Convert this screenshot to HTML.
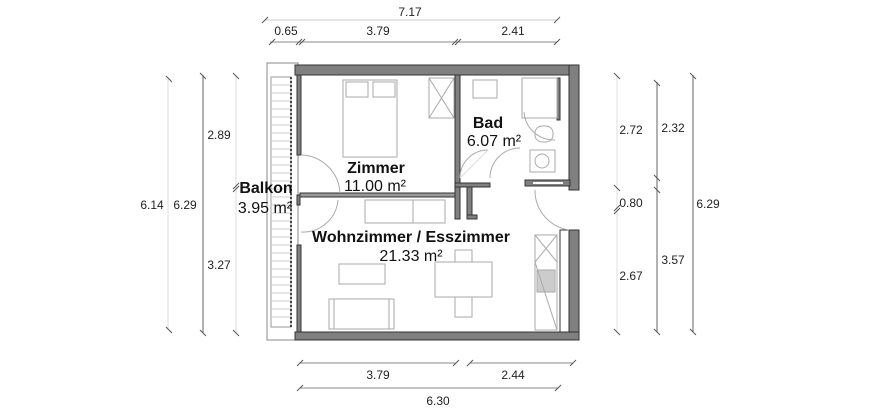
<!DOCTYPE html>
<html><head><meta charset="utf-8"><style>
html,body{margin:0;padding:0;background:#fff;}
svg{display:block;font-family:"Liberation Sans",sans-serif;}
</style></head><body>
<svg width="870" height="420" viewBox="0 0 870 420" xmlns="http://www.w3.org/2000/svg">
<rect width="870" height="420" fill="#fff"/>
<g stroke="#555" stroke-width="1" fill="none">
<line x1="265" y1="20" x2="557" y2="20" stroke="#ccc"/>
<line x1="262" y1="23" x2="268" y2="17"/><line x1="554" y1="23" x2="560" y2="17"/>
<line x1="270" y1="42" x2="557" y2="42" stroke="#888"/>
<line x1="269" y1="45" x2="275" y2="39"/><line x1="296" y1="45" x2="302" y2="39"/><line x1="299" y1="45" x2="305" y2="39"/>
<line x1="452" y1="45" x2="458" y2="39"/><line x1="455" y1="45" x2="461" y2="39"/><line x1="554" y1="45" x2="560" y2="39"/>
<line x1="300" y1="363" x2="456" y2="363" stroke="#888"/><line x1="470" y1="363" x2="573" y2="363" stroke="#888"/>
<line x1="297" y1="366" x2="303" y2="360"/><line x1="453" y1="366" x2="459" y2="360"/><line x1="467" y1="366" x2="473" y2="360"/><line x1="570" y1="366" x2="576" y2="360"/>
<line x1="300" y1="388" x2="558" y2="388" stroke="#888"/>
<line x1="297" y1="391" x2="303" y2="385"/><line x1="555" y1="391" x2="561" y2="385"/>
<line x1="168" y1="78" x2="168" y2="330" stroke="#ddd"/>
<line x1="166" y1="76" x2="172" y2="82"/><line x1="166" y1="327" x2="172" y2="333"/>
<line x1="203" y1="75" x2="203" y2="333" stroke="#666"/>
<line x1="200" y1="73" x2="206" y2="79"/><line x1="200" y1="330" x2="206" y2="336"/>
<line x1="236" y1="75" x2="236" y2="333" stroke="#ddd"/>
<line x1="233" y1="73" x2="239" y2="79"/><line x1="233" y1="330" x2="239" y2="336"/>
<line x1="233" y1="189" x2="239" y2="183"/><line x1="233" y1="192" x2="239" y2="186"/>
<line x1="617" y1="75" x2="617" y2="332" stroke="#ddd"/>
<line x1="614" y1="73" x2="620" y2="79"/><line x1="614" y1="185" x2="620" y2="191"/>
<line x1="614" y1="211" x2="620" y2="205"/><line x1="614" y1="214" x2="620" y2="208"/><line x1="614" y1="329" x2="620" y2="335"/>
<line x1="657" y1="82" x2="657" y2="332" stroke="#666"/>
<line x1="654" y1="80" x2="660" y2="86"/><line x1="654" y1="175" x2="660" y2="181"/><line x1="654" y1="187" x2="660" y2="193"/><line x1="654" y1="329" x2="660" y2="335"/>
<line x1="693" y1="75" x2="693" y2="332" stroke="#666"/>
<line x1="690" y1="73" x2="696" y2="79"/><line x1="690" y1="329" x2="696" y2="335"/>
</g>
<g font-size="12" fill="#222" text-anchor="middle">
<text x="410" y="16">7.17</text>
<text x="286" y="35">0.65</text><text x="378" y="35">3.79</text><text x="513" y="35">2.41</text>
<text x="378" y="379">3.79</text><text x="513" y="379">2.44</text><text x="438" y="405">6.30</text>
<text x="152" y="209">6.14</text><text x="185" y="209">6.29</text>
<text x="219" y="139">2.89</text><text x="219" y="269">3.27</text>
<text x="631" y="134">2.72</text><text x="631" y="207">0.80</text><text x="631" y="280">2.67</text>
<text x="673" y="132">2.32</text><text x="673" y="264">3.57</text><text x="708" y="208">6.29</text>
</g>
<rect x="267" y="63" width="31" height="277" fill="#fff" stroke="#888"/>
<rect x="271" y="77" width="20" height="250" fill="#fff" stroke="#999"/>
<g stroke="#ccc" stroke-width="1">
<line x1="271" y1="85" x2="291" y2="85"/><line x1="271" y1="93" x2="291" y2="93"/><line x1="271" y1="101" x2="291" y2="101"/><line x1="271" y1="109" x2="291" y2="109"/><line x1="271" y1="117" x2="291" y2="117"/><line x1="271" y1="125" x2="291" y2="125"/><line x1="271" y1="133" x2="291" y2="133"/><line x1="271" y1="141" x2="291" y2="141"/><line x1="271" y1="149" x2="291" y2="149"/><line x1="271" y1="157" x2="291" y2="157"/><line x1="271" y1="165" x2="291" y2="165"/><line x1="271" y1="173" x2="291" y2="173"/><line x1="271" y1="181" x2="291" y2="181"/><line x1="271" y1="189" x2="291" y2="189"/><line x1="271" y1="197" x2="291" y2="197"/><line x1="271" y1="205" x2="291" y2="205"/><line x1="271" y1="213" x2="291" y2="213"/><line x1="271" y1="221" x2="291" y2="221"/><line x1="271" y1="229" x2="291" y2="229"/><line x1="271" y1="237" x2="291" y2="237"/><line x1="271" y1="245" x2="291" y2="245"/><line x1="271" y1="253" x2="291" y2="253"/><line x1="271" y1="261" x2="291" y2="261"/><line x1="271" y1="269" x2="291" y2="269"/><line x1="271" y1="277" x2="291" y2="277"/><line x1="271" y1="285" x2="291" y2="285"/><line x1="271" y1="293" x2="291" y2="293"/><line x1="271" y1="301" x2="291" y2="301"/><line x1="271" y1="309" x2="291" y2="309"/><line x1="271" y1="317" x2="291" y2="317"/>
</g>
<line x1="291" y1="77" x2="291" y2="327" stroke="#444" stroke-width="2" stroke-dasharray="2,2"/>
<g fill="#808080" stroke="#333" stroke-width="1">
<rect x="295" y="65" width="284" height="10"/>
<rect x="569" y="65" width="10" height="125"/>
<rect x="569" y="230" width="10" height="110"/>
<rect x="295" y="332" width="284" height="8"/>
<rect x="297" y="75" width="4" height="80"/>
<rect x="297" y="245" width="4" height="87"/>
<rect x="297" y="195" width="3" height="10"/>
<rect x="455" y="75" width="5" height="108"/>
<rect x="300" y="193" width="155" height="4" fill="#999"/>
<rect x="455" y="183" width="35" height="4"/>
<rect x="525" y="180" width="45" height="6"/>
<rect x="455" y="187" width="5" height="32"/>
<rect x="467" y="187" width="5" height="32"/>
<rect x="467" y="215" width="10" height="4"/>
<rect x="557" y="78" width="3" height="42"/>
<rect x="560" y="230" width="9" height="102" fill="#fff"/>
</g>
<rect x="533" y="182" width="30" height="2" fill="#fff"/>
<g fill="none" stroke="#aaa" stroke-width="1">
<rect x="343" y="80" width="54" height="77"/>
<rect x="346" y="82" width="22" height="15"/><rect x="373" y="82" width="22" height="15"/>
<rect x="429" y="78" width="25" height="40"/>
<line x1="429" y1="78" x2="454" y2="118"/><line x1="454" y1="78" x2="429" y2="118"/>
<rect x="473" y="80" width="24" height="18"/>
<rect x="522" y="78" width="35" height="40"/>
<rect x="535" y="126" width="18" height="16" rx="7"/>
<rect x="530" y="150" width="25" height="22"/><circle cx="542" cy="161" r="7"/>
<path d="M460 178 A28 28 0 0 1 488 150"/><line x1="460" y1="178" x2="488" y2="150" stroke="#ddd"/>
<path d="M490 178 A30 30 0 0 1 520 148"/>
<path d="M524 112 A30 30 0 0 0 555 140"/>
<path d="M301 155 A40 40 0 0 1 340 193"/>
<path d="M301 232 A35 35 0 0 0 338 200"/>
<path d="M535 190 A40 40 0 0 0 569 230"/>
<rect x="365" y="200" width="80" height="23"/><line x1="413" y1="200" x2="413" y2="223"/>
<rect x="339" y="264" width="46" height="20"/>
<rect x="329" y="299" width="65" height="30"/><line x1="334" y1="299" x2="334" y2="329"/><line x1="389" y1="299" x2="389" y2="329"/>
<rect x="435" y="262" width="57" height="35"/>
<rect x="455" y="250" width="17" height="12"/><rect x="455" y="297" width="17" height="20"/>
<rect x="535" y="235" width="22" height="95"/>
<line x1="535" y1="235" x2="557" y2="262"/><line x1="557" y1="235" x2="535" y2="262"/>
<rect x="537" y="270" width="18" height="22" fill="#ccc"/>
<line x1="535" y1="262" x2="557" y2="330"/>
</g>
<g font-size="16" fill="#111" text-anchor="middle">
<text x="488" y="128" font-weight="bold">Bad</text>
<text x="494" y="146">6.07 m²</text>
<text x="376" y="173" font-weight="bold">Zimmer</text>
<text x="375" y="191">11.00 m²</text>
<text x="266" y="193" font-weight="bold">Balkon</text>
<text x="265" y="213">3.95 m²</text>
<text x="411" y="242" font-weight="bold">Wohnzimmer / Esszimmer</text>
<text x="411" y="261">21.33 m²</text>
</g>
</svg>
</body></html>
